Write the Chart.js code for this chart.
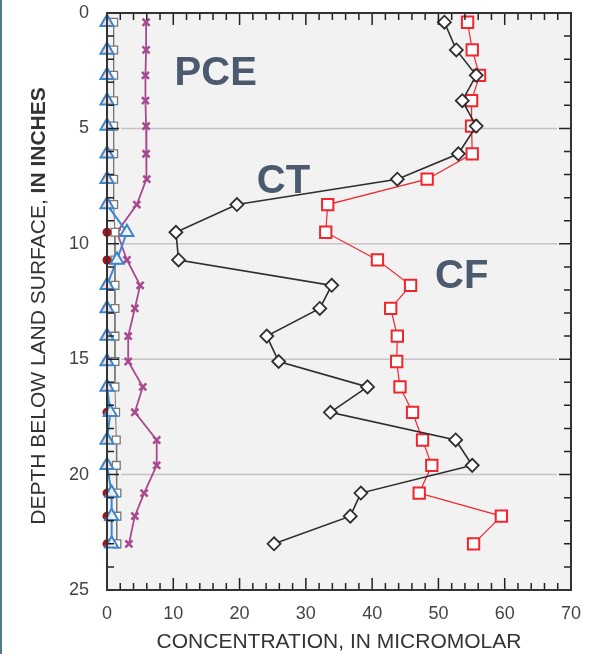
<!DOCTYPE html>
<html>
<head>
<meta charset="utf-8">
<script src="https://cdn.jsdelivr.net/npm/chart.js@4.4.1/dist/chart.umd.min.js"></script>
<style>
  html, body { margin: 0; padding: 0; background: #fff; }
  canvas { display: block; }
</style>
</head>
<body>
<canvas id="depthChart" width="591" height="654"></canvas>
<script>
// sample depths, inches below land surface
const depths = [0.4, 1.6, 2.7, 3.8, 4.9, 6.1, 7.2, 8.3, 9.5, 10.7, 11.8, 12.8, 14.0, 15.1, 16.2, 17.3, 18.5, 19.6, 20.8, 21.8, 23.0];

// concentrations, micromolar
const ctValues  = [50.9, 52.7, 55.7, 53.6, 55.7, 53.0, 43.8, 19.6, 10.4, 10.8, 33.9, 32.1, 24.1, 25.9, 39.3, 33.7, 52.6, 55.1, 38.3, 36.7, 25.2];
const cfValues  = [54.4, 55.1, 56.2, 55.0, 55.0, 55.1, 48.3, 33.3, 33.0, 40.8, 45.8, 42.8, 43.8, 43.7, 44.2, 46.1, 47.6, 49.0, 47.1, 59.5, 55.3];
const pceValues = [5.9, 5.9, 5.8, 5.8, 5.9, 5.9, 6.0, 4.5, 1.5, 3.0, 5.0, 4.2, 3.2, 3.2, 5.4, 4.2, 7.5, 7.5, 5.6, 4.2, 3.3];
const triValues = [0, 0, 0, 0, 0, 0, 0, 0, 3.0, 1.5, 0, 0, 0, 0, 0, 0.5, 0, 0, 0.7, 0.7, 0.7];
const dotValues = [0, 0, 0, 0, 0, 0, 0, 0, 0, 0, 0, 0, 0, 0, 0, 0, 0, 0, 0, 0, 0];
const boxValues = [1.0, 1.0, 1.0, 1.0, 1.0, 1.0, 1.0, 1.0, 1.2, 1.2, 1.2, 1.2, 1.2, 1.2, 1.2, 1.3, 1.4, 1.4, 1.5, 1.5, 1.5];

const seriesNames = [
    { text: 'PCE', x: 10.2, y: 3.1 },
    { text: 'CT', x: 22.6, y: 7.8 },
    { text: 'CF', x: 49.5, y: 11.9 }
];
const gridDepths = [5, 10, 15, 20];

const FONT = '"Liberation Sans", Arial, Helvetica, sans-serif';

function points(values) {
    return values.map((v, i) => ({ x: v, y: depths[i] }));
}

// plot background, grid lines, frame with inward ticks, labels
const framePlugin = {
    id: 'frame',
    beforeDraw(chart) {
        const { ctx, chartArea: a } = chart;
        ctx.save();
        ctx.fillStyle = '#4d7c84';
        ctx.fillRect(0, 0, 2, chart.height);
        ctx.fillStyle = '#f2f2f2';
        ctx.fillRect(a.left, a.top, a.right - a.left, a.bottom - a.top);
        ctx.restore();
    },
    beforeDatasetsDraw(chart) {
        const { ctx, chartArea: a, scales } = chart;
        ctx.save();
        ctx.strokeStyle = '#c4c4c8';
        ctx.lineWidth = 1.5;
        gridDepths.forEach(d => {
            const py = scales.y.getPixelForValue(d);
            ctx.beginPath();
            ctx.moveTo(a.left + 14, py);
            ctx.lineTo(a.right - 14, py);
            ctx.stroke();
        });
        ctx.restore();
    },
    afterDatasetsDraw(chart) {
        const { ctx, chartArea: a, scales } = chart;
        ctx.save();
        ctx.strokeStyle = '#222';
        ctx.lineWidth = 1.5;
        ctx.beginPath();
        for (let v = 0; v <= 70; v += 2) {
            const px = scales.x.getPixelForValue(v);
            const len = v % 10 === 0 ? 12 : 7;
            ctx.moveTo(px, a.top); ctx.lineTo(px, a.top + len);
            ctx.moveTo(px, a.bottom); ctx.lineTo(px, a.bottom - len);
        }
        for (let d = 0; d <= 25; d += 1) {
            const py = scales.y.getPixelForValue(d);
            const len = d % 5 === 0 ? 12 : 7;
            ctx.moveTo(a.left, py); ctx.lineTo(a.left + len, py);
            ctx.moveTo(a.right, py); ctx.lineTo(a.right - len, py);
        }
        ctx.stroke();
        ctx.lineWidth = 2;
        ctx.strokeStyle = '#333';
        ctx.strokeRect(a.left, a.top, a.right - a.left, a.bottom - a.top);

        // series names
        ctx.fillStyle = '#4b5a6e';
        ctx.font = 'bold 40px ' + FONT;
        ctx.textBaseline = 'alphabetic';
        ctx.textAlign = 'left';
        seriesNames.forEach(n => {
            ctx.fillText(n.text, scales.x.getPixelForValue(n.x), scales.y.getPixelForValue(n.y));
        });

        // axis titles
        ctx.fillStyle = '#333';
        ctx.font = '21px ' + FONT;
        ctx.textAlign = 'center';
        ctx.textBaseline = 'middle';
        ctx.fillText('CONCENTRATION, IN MICROMOLAR', (a.left + a.right) / 2, 642);

        const part1 = 'DEPTH BELOW LAND SURFACE, ';
        const part2 = 'IN INCHES';
        ctx.translate(39, 306);
        ctx.rotate(-Math.PI / 2);
        ctx.textAlign = 'left';
        ctx.font = '21px ' + FONT;
        const w1 = ctx.measureText(part1).width;
        ctx.font = 'bold 21px ' + FONT;
        const w2 = ctx.measureText(part2).width;
        const start = -(w1 + w2) / 2;
        ctx.font = '21px ' + FONT;
        ctx.fillText(part1, start, 0);
        ctx.font = 'bold 21px ' + FONT;
        ctx.fillText(part2, start + w1, 0);
        ctx.restore();
    }
};

const chart = new Chart(document.getElementById('depthChart'), {
    type: 'scatter',
    data: {
        datasets: [
            {
                label: 'blue',
                data: points(triValues),
                showLine: true,
                borderColor: '#3b86cf',
                borderWidth: 2,
                backgroundColor: 'rgba(255,255,255,0.85)',
                pointStyle: 'triangle',
                pointRadius: 7.5,
                pointBorderWidth: 2,
                clip: false
            },
            {
                label: 'red',
                data: points(dotValues),
                showLine: true,
                borderColor: '#b01820',
                borderWidth: 1.5,
                backgroundColor: '#a8101a',
                pointStyle: 'circle',
                pointRadius: 4.5,
                pointBorderWidth: 0,
                clip: false
            },
            {
                label: 'grey',
                data: points(boxValues),
                showLine: true,
                borderColor: '#777',
                borderWidth: 1,
                backgroundColor: '#fff',
                pointStyle: 'rect',
                pointRadius: 5.5,
                pointBorderWidth: 1.3,
                clip: false
            },
            {
                label: 'PCE',
                data: points(pceValues),
                showLine: true,
                borderColor: '#a8488f',
                borderWidth: 1.8,
                pointStyle: 'crossRot',
                pointRadius: 5,
                pointBorderWidth: 2.5,
                clip: false
            },
            {
                label: 'CT',
                data: points(ctValues),
                showLine: true,
                borderColor: '#2e2e2e',
                borderWidth: 1.6,
                backgroundColor: '#fff',
                pointStyle: 'rectRot',
                pointRadius: 6.5,
                pointBorderWidth: 1.8,
                clip: false
            },
            {
                label: 'CF',
                data: points(cfValues),
                showLine: true,
                borderColor: '#f0262e',
                borderWidth: 1.2,
                backgroundColor: '#fff',
                pointStyle: 'rect',
                pointRadius: 8,
                pointBorderWidth: 2,
                clip: false
            }
        ]
    },
    options: {
        responsive: false,
        animation: false,
        devicePixelRatio: 1,
        layout: { padding: { left: 0, right: 20, top: 13, bottom: 0 } },
        plugins: {
            legend: { display: false },
            tooltip: { enabled: false }
        },
        scales: {
            x: {
                type: 'linear',
                min: 0,
                max: 70,
                grid: { display: false },
                border: { display: false },
                ticks: {
                    stepSize: 10,
                    padding: 5,
                    color: '#444',
                    font: { family: FONT, size: 18 }
                },
                afterFit(scale) {
                    scale.height = 64;
                    scale.paddingLeft = 0;
                    scale.paddingRight = 0;
                }
            },
            y: {
                type: 'linear',
                reverse: true,
                min: 0,
                max: 25,
                grid: { display: false },
                border: { display: false },
                ticks: {
                    stepSize: 5,
                    padding: 10,
                    color: '#444',
                    font: { family: FONT, size: 18 }
                },
                afterFit(scale) {
                    scale.width = 107;
                    scale.paddingTop = 0;
                    scale.paddingBottom = 0;
                }
            }
        }
    },
    plugins: [framePlugin]
});
</script>
</body>
</html>
